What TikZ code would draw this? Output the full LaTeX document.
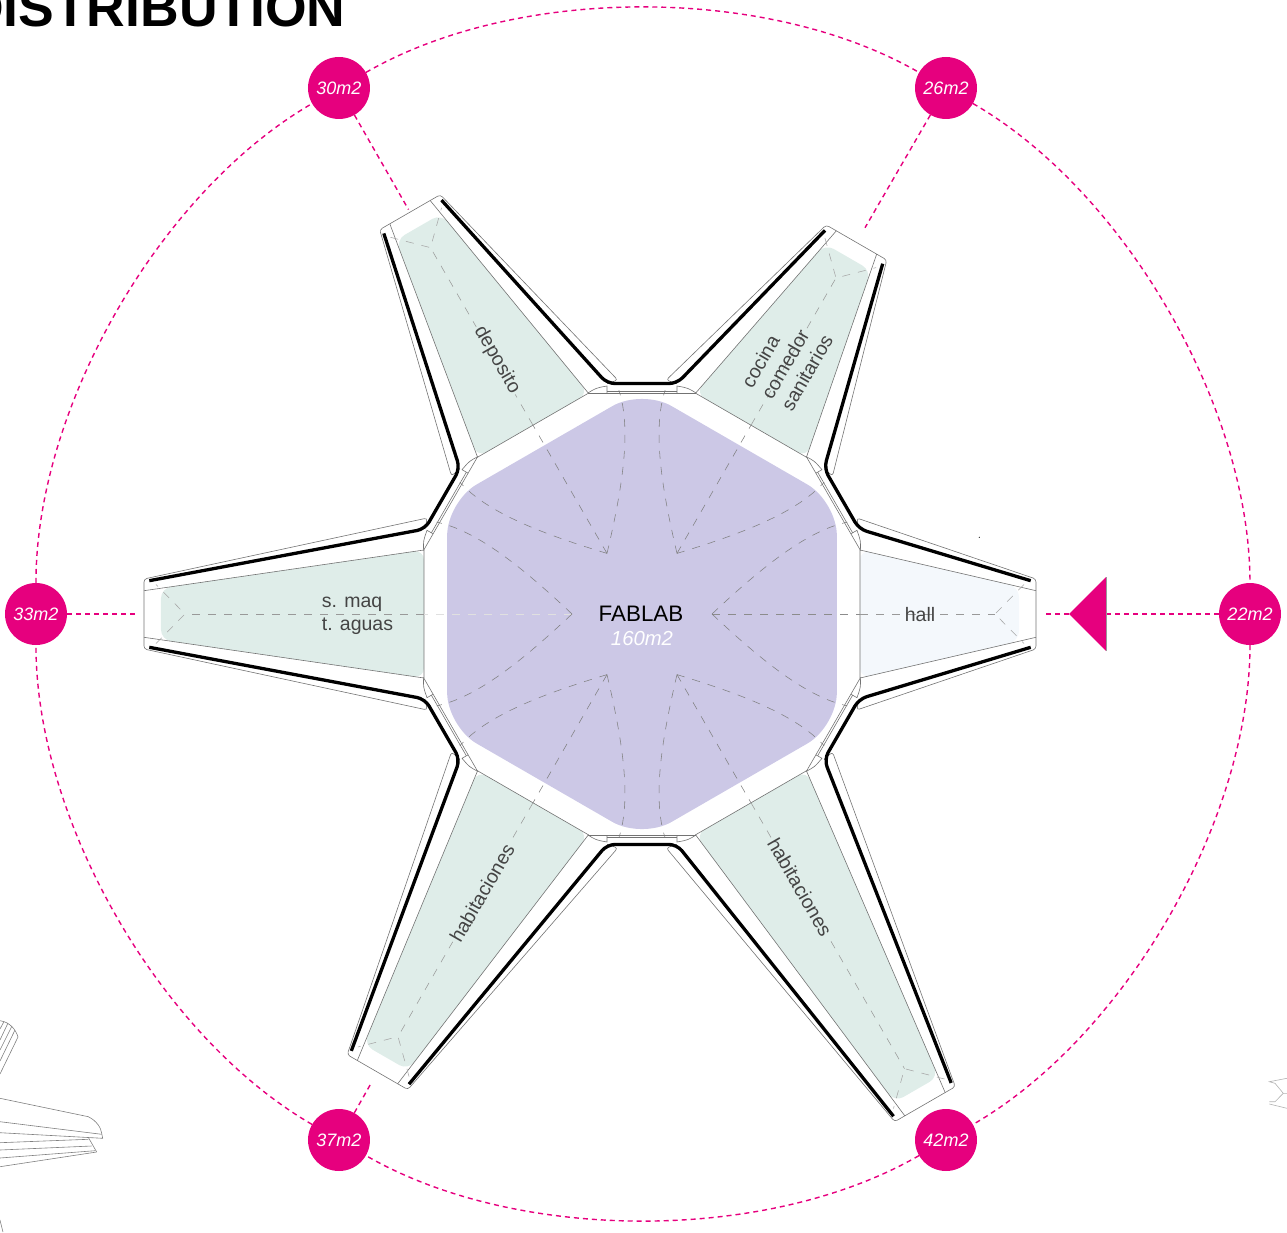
\documentclass[tikz,border=0pt]{standalone}
\usepackage{fontspec}
\setmainfont{Liberation Sans}
\usetikzlibrary{calc,positioning}
\definecolor{pinkm}{HTML}{E6007E}
\definecolor{roomg}{HTML}{DFEDE9}
\definecolor{roomh}{HTML}{F4F8FC}
\definecolor{labhex}{HTML}{CCC8E6}
\definecolor{txtg}{HTML}{444444}
\tikzstyle{ring}=[pinkm,line width=1.4pt,dash pattern=on 5pt off 4pt]
\tikzstyle{badge}=[circle,fill=pinkm,inner sep=0,minimum size=62pt,text=white,font=\fontsize{18}{20}\selectfont\itshape]
\tikzstyle{wall}=[black,line width=3.3pt,rounded corners=8pt]
\tikzstyle{fine}=[black!55,line width=.6pt]
\tikzstyle{vault}=[line width=.55pt,dash pattern=on 8pt off 8pt]
\tikzstyle{sketch}=[black!50,line width=.6pt]
\tikzstyle{room}=[text=txtg,font=\fontsize{19.5}{23}\selectfont,align=left]

\begin{document}
\begin{tikzpicture}[x=1pt,y=1pt]
    \useasboundingbox (-642,-618) rectangle (645,614);

    \node [anchor=base east,font=\fontsize{53.5}{60}\selectfont\bfseries] (title) at (-293,587) {DISTRIBUTION};

    % lab floor
    \fill [labhex,rounded corners=34pt] (90:225) -- (150:225) -- (210:225) -- (270:225) -- (330:225) -- (30:225) -- cycle;

    % arms, the same shape at six lengths
    \foreach \ang/\len/\col/\axc in {0/394/roomh/45,60/429/roomg/50,120/464/roomg/50,180/498/roomg/12,240/529/roomg/50,300/566/roomg/50} {
      \begin{scope}[rotate=\ang]
        \pgfmathsetmacro{\wf}{64-(\len-17-218)*40.7/(\len-218)}
        \fill [\col,rounded corners=10pt] (218,64) -- (\len-17,\wf) -- (\len-17,-\wf) -- (218,-64) -- cycle;
        \draw [fine] (\len,23.3) -- (218,64) -- (218,-64) -- (\len,-23.3);
        \draw [fine,rounded corners=3pt] (217,85) -- (214.7,96) -- (\len,35) -- (\len,-35) -- (214.7,-96) -- (217,-85);
        \draw [vault,black!\axc] (70,0) -- (218,0);
        \draw [vault,black!40] (218,0) -- (\len-41,0);
        \draw [vault,black!35] (\len-12,29.5) -- (\len-41,0) -- (\len-12,-29.5);
        \draw [vault,black!50] (70,0) .. controls (20.8:125.6) and (26.9:184.3) .. (24.1:225);
        \draw [vault,black!50] (70,0) .. controls (-20.8:125.6) and (-26.9:184.3) .. (-24.1:225);
      \end{scope}
    }

    % joints between the arms
    \foreach \ang in {30,90,150,210,270,330} {
      \begin{scope}[rotate=\ang]
        \draw [fine] (221,-54) -- (221,54);
        \draw [fine] (223,-35) -- (223,35);
        \draw [fine] (221,-54) .. controls (226,-46) .. (228,-35) -- (221,-35);
        \draw [fine] (221,54) .. controls (226,46) .. (228,35) -- (221,35);
      \end{scope}
    }

    % thick walls
    \foreach \ang/\la/\lb in {0/394/429,60/429/464,120/464/498,180/498/529,240/529/566,300/566/394} {
      \draw [wall] ([rotate=\ang]\la-5.3,33.3) -- ([rotate=\ang]217,85) -- ([rotate=\ang+60]217,-85) -- ([rotate=\ang+60]\lb-5.3,-33.3);
    }

    % labels
    \node (fablab) at (-1,0) {\fontsize{22.4}{24}\selectfont FABLAB};
    \node [text=white,font=\fontsize{20.3}{22}\selectfont\itshape] (area) at (0,-25) {160m2};
    \node [room] (hall) at (278,-1) {hall};
    \node [room] (maq) at (-284.5,-1.5) {s. maq\\t. aguas};
    \node [room,rotate=60] (cocina) at (145,253) {cocina\\comedor\\sanitarios};
    \node [room,rotate=-60,fill=roomg,inner sep=2pt] (depo) at (-145,254) {deposito};
    \node [room,rotate=60,fill=roomg,inner sep=2pt] (habl) at (-160,-279) {habitaciones};
    \node [room,rotate=-60,fill=roomg,inner sep=2pt] (habr) at (158,-273) {habitaciones};

    % areas round the ring
    \node [badge] (b22) at (608,0) {22m2};
    \node [badge] (b26) at (304,526) {26m2};
    \node [badge] (b30) at (-303,526) {30m2};
    \node [badge] (b33) at (-606,0) {33m2};
    \node [badge] (b37) at (-303,-526) {37m2};
    \node [badge] (b42) at (304,-526) {42m2};

    \foreach \a/\b in {b30/b26,b26/b22,b22/b42,b42/b37,b37/b33,b33/b30} {
      \draw [ring] (\a) to [bend left=30,looseness=.81] (\b);
    }

    \coordinate (tip26) at (60:446);
    \coordinate (tip30) at (120:467);
    \coordinate (tip33) at (180:504);
    \coordinate (tip37) at (240:541);
    \coordinate (tip22) at (402,0);
    \coordinate (entA) at (427,0);
    \coordinate (entB) at (464,37);
    \coordinate (entC) at (464,-37);
    \draw [ring] (b26) -- (tip26);
    \draw [ring] (b30) -- (tip30);
    \draw [ring] (b33) -- (tip33);
    \draw [ring] (b37) -- (tip37);
    \draw [ring] (b22) -- (entA);
    \draw [ring] (entA) -- (tip22);
    \fill [pinkm] (entA) -- (entB) -- (entC) -- cycle;
    \draw [black!40,line width=.4pt] (entB) -- (entC);

    \fill (337.3,76.7) circle (.6pt);

    % pieces of the next drawings at the edges
    \draw [sketch] (-642,-406.7) .. controls (-632,-408) and (-626,-416) .. (-624,-423) -- (-642,-460);
    \foreach \xa/\ya/\yb in {-638/-407.5/-415,-634/-409/-426,-630/-412/-436,-627/-416/-447} {
      \draw [sketch] (\xa,\ya) -- (-642,\yb);
    }
    \draw [sketch] (-642,-484.3) -- (-553.7,-502.7) .. controls (-545,-507) and (-541,-514) .. (-540.3,-519.3) -- (-539.3,-524.3) -- (-642,-518.7);
    \draw [sketch] (-642,-507.7) -- (-540.3,-520.3);
    \draw [sketch] (-553.7,-523.3) -- (-545.3,-538);
    \draw [sketch] (-642,-528.7) -- (-553.7,-525.3);
    \draw [sketch] (-642,-536) -- (-550.3,-532);
    \draw [sketch] (-642,-544) -- (-547,-536.7);
    \draw [sketch] (-642,-552.7) -- (-545.3,-538);
    \draw [sketch] (-642,-606) -- (-639,-618);
    \draw [sketch,black!30] (645,-464.3) -- (627.3,-467.7) -- (633,-469.3) -- (641.3,-479.3) -- (645,-479.3);
    \draw [sketch,black!30] (641.3,-479.3) -- (633,-487.7) -- (627.3,-487.7);
    \draw [sketch,black!30] (627.3,-490) -- (645,-494.3);
\end{tikzpicture}
\end{document}
